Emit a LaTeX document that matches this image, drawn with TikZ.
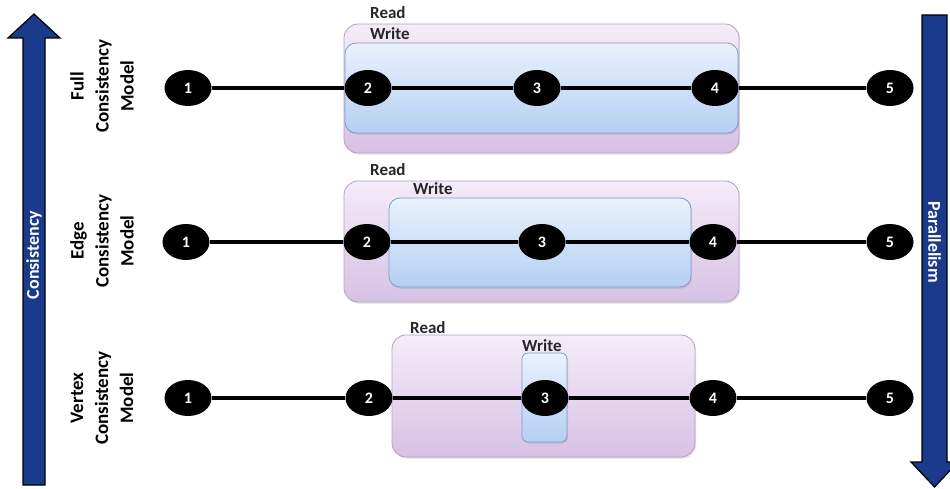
\documentclass[tikz,border=0pt]{standalone}
\usepackage{fontspec}
\setmainfont{Carlito}
\usetikzlibrary{shapes.geometric,shadows}
\definecolor{navy}{HTML}{1B3A8C}
\definecolor{readtop}{HTML}{F4ECF8}
\definecolor{readbot}{HTML}{D7C1E5}
\definecolor{readline}{HTML}{B49FC4}
\definecolor{writetop}{HTML}{E9F2FD}
\definecolor{writebot}{HTML}{B5CFF3}
\definecolor{writeline}{HTML}{7C9CC6}
\definecolor{labelgray}{HTML}{262626}
\tikzset{
  readbox/.style={rectangle, rounded corners=14pt, draw=readline, line width=0.8pt,
    top color=readtop, bottom color=readbot, inner sep=0pt,
    drop shadow={opacity=0.18, shadow xshift=1.2pt, shadow yshift=-1.8pt}},
  writebox/.style={rectangle, rounded corners=11pt, draw=writeline, line width=0.8pt,
    top color=writetop, bottom color=writebot, inner sep=0pt,
    drop shadow={opacity=0.18, shadow xshift=1.2pt, shadow yshift=-1.8pt}},
  boxlabel/.style={anchor=base west, inner sep=0pt, text=labelgray,
    font=\bfseries\fontsize{17}{17}\selectfont},
  num/.style={ellipse, fill=black, minimum width=47pt, minimum height=36pt, inner sep=0pt,
    text=white, font=\bfseries\fontsize{16}{16}\selectfont},
  link/.style={line width=3.8pt, black},
  rowlabel/.style={rotate=90, align=center, inner sep=0pt, text=black,
    font=\bfseries\fontsize{19}{25}\selectfont},
  bigarrow/.style={fill=navy, draw=black, line width=1.2pt, line join=miter},
  arrowtext/.style={inner sep=0pt, text=white, font=\bfseries\fontsize{18}{18}\selectfont}
}
\begin{document}
\begin{tikzpicture}[x=1pt,y=-1pt]
\useasboundingbox (0,0) rectangle (950,489);

% side arrows
\draw[bigarrow] (23,485) -- (23,38) -- (8,38) -- (34,14) -- (60,38) -- (45,38) -- (45,485) -- cycle;
\node[arrowtext, rotate=90] (constxt) at (34,255) {Consistency};
\draw[bigarrow] (922,15) -- (947,15) -- (947,462) -- (958,462) -- (934.5,487) -- (911,462) -- (922,462) -- cycle;
\node[arrowtext, rotate=-90] (partxt) at (934.5,242) {Parallelism};

% row labels
\node[rowlabel] (lab1) at (102,86) {Full\\Consistency\\Model};
\node[rowlabel] (lab2) at (102,241) {Edge\\Consistency\\Model};
\node[rowlabel] (lab3) at (102,398) {Vertex\\Consistency\\Model};

% row 1: full
\node[readbox, minimum width=395pt, minimum height=129pt] (r1read) at (541.5,88.5) {};
\node[writebox, minimum width=393pt, minimum height=90pt] (r1write) at (541.5,88) {};
\node[boxlabel] (r1readlab) at (370,19) {Read};
\node[boxlabel] (r1writelab) at (370,40) {Write};

% row 2: edge
\node[readbox, minimum width=395pt, minimum height=121pt] (r2read) at (541.5,241.5) {};
\node[writebox, minimum width=302pt, minimum height=89pt] (r2write) at (540,242.5) {};
\node[boxlabel] (r2readlab) at (370,176) {Read};
\node[boxlabel] (r2writelab) at (413,195) {Write};

% row 3: vertex
\node[readbox, minimum width=303pt, minimum height=122pt] (r3read) at (543.5,396) {};
\node[writebox, minimum width=45pt, minimum height=89pt, rounded corners=6pt] (r3write) at (544.5,397.5) {};
\node[boxlabel] (r3readlab) at (410,333) {Read};
\node[boxlabel] (r3writelab) at (522,351) {Write};

% nodes
\foreach \r/\y/\xa/\xb/\xc/\xd/\xe in {1/88/188/368/537/715/890, 2/242/186/367/542/713/890, 3/398/188/369/545/713/890}{
  \node[num] (n\r a) at (\xa,\y) {1};
  \node[num] (n\r b) at (\xb,\y) {2};
  \node[num] (n\r c) at (\xc,\y) {3};
  \node[num] (n\r d) at (\xd,\y) {4};
  \node[num] (n\r e) at (\xe,\y) {5};
  \draw[link] (n\r a) -- (n\r b);
  \draw[link] (n\r b) -- (n\r c);
  \draw[link] (n\r c) -- (n\r d);
  \draw[link] (n\r d) -- (n\r e);
}
\end{tikzpicture}
\end{document}
